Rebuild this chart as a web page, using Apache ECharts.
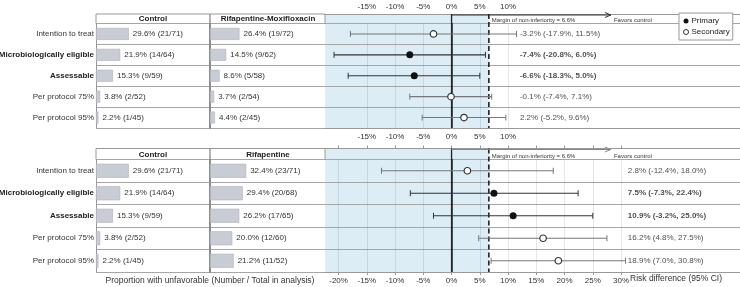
<!DOCTYPE html>
<html>
<head>
<meta charset="utf-8">
<script src="https://cdn.jsdelivr.net/npm/echarts@6/dist/echarts.min.js"></script>
<style>
  html, body { margin: 0; padding: 0; background: #fff; }
  #chart { width: 740px; height: 287px; }
</style>
</head>
<body>
<div id="chart"></div>
<script>
var rowLabels = ['Intention to treat', 'Microbiologically eligible', 'Assessable', 'Per protocol 75%', 'Per protocol 95%'];
var isPrimary = [false, true, true, false, false];

var controlPct = [29.6, 21.9, 15.3, 3.8, 2.2];
var controlN = [21, 14, 9, 2, 1];
var controlTotal = [71, 64, 59, 52, 45];

var moxPct = [26.4, 14.5, 8.6, 3.7, 4.4];
var moxN = [19, 9, 5, 2, 2];
var moxTotal = [72, 62, 58, 54, 45];
var moxDiff = [-3.2, -7.4, -6.6, -0.1, 2.2];
var moxLow = [-17.9, -20.8, -18.3, -7.4, -5.2];
var moxHigh = [11.5, 6.0, 5.0, 7.1, 9.6];

var rifPct = [32.4, 29.4, 26.2, 20.0, 21.2];
var rifN = [23, 20, 17, 12, 11];
var rifTotal = [71, 68, 65, 60, 52];
var rifDiff = [2.8, 7.5, 10.9, 16.2, 18.9];
var rifLow = [-12.4, -7.3, -3.2, 4.8, 7.0];
var rifHigh = [18.0, 22.4, 25.0, 27.5, 30.8];

var margin = 6.6;
var topTicks = [-15, -10, -5, 0, 5, 10];
var bottomTicks = [-20, -15, -10, -5, 0, 5, 10, 15, 20, 25, 30];

// layout
var FONT = '"Liberation Sans", Arial, sans-serif';
var XMIN = -22.4, PX_PER = 5.65;
var XMAX = XMIN + (740 - 325) / PX_PER;
var ARROW_END = 28.2;

var panels = [
    {top: 14, head: 9.5, bottom: 128, name: 'Rifapentine-Moxifloxacin',
     pct: moxPct, n: moxN, total: moxTotal, diff: moxDiff, low: moxLow, high: moxHigh,
     ticks: topTicks, topLabels: true, edgeTicks: false, textAt: 12.1, barWidth: 12, arrowColor: '#333'},
    {top: 148.5, head: 11, bottom: 272, name: 'Rifapentine',
     pct: rifPct, n: rifN, total: rifTotal, diff: rifDiff, low: rifLow, high: rifHigh,
     ticks: bottomTicks, topLabels: false, edgeTicks: true, textAt: 31.2, barWidth: 14, arrowColor: '#888'}
];

function pc(v) { return v.toFixed(1) + '%'; }

var grids = [], xAxes = [], yAxes = [], series = [], graphics = [];

panels.forEach(function (p, k) {
    var gTop = p.top + p.head;
    var gH = p.bottom - gTop;
    var g0 = grids.length;
    grids.push({left: 96, width: 114, top: gTop, height: gH, outerBoundsMode: 'none'});
    grids.push({left: 210, width: 115, top: gTop, height: gH, outerBoundsMode: 'none'});
    grids.push({left: 325, width: 415, top: gTop, height: gH, outerBoundsMode: 'none'});

    var x0 = xAxes.length;
    // bar columns
    [0, 1].forEach(function (j) {
        xAxes.push({gridIndex: g0 + j, type: 'value', min: 0, max: 103, show: false});
    });
    // forest bottom axis
    xAxes.push({
        gridIndex: g0 + 2, type: 'value', min: XMIN, max: XMAX, position: 'bottom',
        axisLine: {show: true, lineStyle: {color: '#999', width: 1}},
        axisTick: {show: p.edgeTicks, customValues: p.ticks, length: 3, lineStyle: {color: '#999'}},
        axisLabel: {customValues: p.ticks, formatter: function (v) { return v + '%'; },
                    fontSize: 8, color: '#333', margin: 5, fontFamily: FONT},
        splitLine: {show: true, lineStyle: {color: 'rgba(110,135,155,0.2)', width: 1}}
    });
    // forest top axis
    xAxes.push({
        gridIndex: g0 + 2, type: 'value', min: XMIN, max: XMAX, position: 'top', offset: p.head,
        axisLine: {show: true, lineStyle: {color: '#999', width: 1}},
        axisTick: {show: p.edgeTicks, customValues: p.ticks, length: 3, lineStyle: {color: '#999'}},
        axisLabel: {show: p.topLabels, customValues: p.ticks, formatter: function (v) { return v + '%'; },
                    fontSize: 8, color: '#333', margin: 3, fontFamily: FONT},
        splitLine: {show: false}
    });

    var y0 = yAxes.length;
    yAxes.push({
        gridIndex: g0, type: 'category', data: rowLabels, inverse: true,
        axisLine: {show: true, lineStyle: {color: '#999', width: 1}},
        axisTick: {show: false},
        axisLabel: {
            margin: 2, fontSize: 8, color: '#333', fontFamily: FONT,
            formatter: function (v, i) { return isPrimary[i] ? '{b|' + v + '}' : v; },
            rich: {b: {fontWeight: 'bold', fontSize: 8, color: '#222', fontFamily: FONT}}
        },
        splitLine: {show: true, lineStyle: {color: '#a6a6a6', width: 1}}
    });
    yAxes.push({
        gridIndex: g0 + 1, type: 'category', data: rowLabels, inverse: true,
        axisLine: {show: true, lineStyle: {color: '#8c8c8c', width: 2}},
        axisTick: {show: false}, axisLabel: {show: false},
        splitLine: {show: true, lineStyle: {color: '#a6a6a6', width: 1}}
    });
    yAxes.push({
        gridIndex: g0 + 2, type: 'category', data: rowLabels, inverse: true,
        axisLine: {show: true, lineStyle: {color: '#2b2b2b', width: 1.5}},
        axisTick: {show: false}, axisLabel: {show: false},
        splitLine: {show: true, lineStyle: {color: '#a6a6a6', width: 1}}
    });

    // bars
    var barCols = [
        {pct: controlPct, n: controlN, total: controlTotal},
        {pct: p.pct, n: p.n, total: p.total}
    ];
    barCols.forEach(function (c, j) {
        series.push({
            type: 'bar', xAxisIndex: x0 + j, yAxisIndex: y0 + j,
            data: c.pct, barWidth: p.barWidth,
            itemStyle: {color: '#c8ccd5', borderColor: '#aeb2bb', borderWidth: 0.6},
            label: {
                show: true, position: 'right', distance: 4, fontSize: 8, color: '#333', fontFamily: FONT,
                formatter: function (q) { return pc(c.pct[q.dataIndex]) + ' (' + c.n[q.dataIndex] + '/' + c.total[q.dataIndex] + ')'; }
            },
            silent: true
        });
    });

    var xF = x0 + 2, yF = y0 + 2;

    // shaded non-inferiority zone, reaching into the header row
    series.push({
        type: 'custom', xAxisIndex: xF, yAxisIndex: yF, z: -1, silent: true,
        data: [[margin, 0]],
        renderItem: function (params, api) {
            var cs = params.coordSys;
            var xr = api.coord([api.value(0), 0])[0];
            return {type: 'rect', shape: {x: cs.x, y: cs.y - p.head, width: xr - cs.x, height: cs.height + p.head},
                    style: {fill: '#dcedf5'}};
        }
    });

    // zero line, margin line, arrow and captions
    series.push({
        type: 'custom', xAxisIndex: xF, yAxisIndex: yF, z: 3, silent: true,
        data: [[0, margin, ARROW_END]],
        renderItem: function (params, api) {
            var cs = params.coordSys;
            var xz = api.coord([api.value(0), 0])[0];
            var xm = api.coord([api.value(1), 0])[0];
            var xa = api.coord([api.value(2), 0])[0];
            var yt = cs.y - p.head, yb = cs.y + cs.height;
            var ya = yt + 1;
            var ytxt = cs.y - 3.3;
            return {type: 'group', children: [
                {type: 'line', shape: {x1: xz, y1: yt, x2: xz, y2: yb}, style: {stroke: '#222', lineWidth: 1.3}},
                {type: 'line', shape: {x1: xm, y1: yt, x2: xm, y2: yb}, style: {stroke: '#222', lineWidth: 1.6, lineDash: [5, 3]}},
                {type: 'line', shape: {x1: xz, y1: ya, x2: xa, y2: ya}, style: {stroke: p.arrowColor, lineWidth: 1}},
                {type: 'polyline', shape: {points: [[xa - 6, ya - 2.5], [xa, ya], [xa - 6, ya + 2.5]]},
                 style: {stroke: p.arrowColor, fill: null, lineWidth: 1}},
                {type: 'text', x: xm + 3, y: ytxt,
                 style: {text: 'Margin of non-inferiority = ' + api.value(1) + '%', fontSize: 6, fill: '#333',
                         verticalAlign: 'middle', fontFamily: FONT}},
                {type: 'text', x: xa + 3, y: ytxt,
                 style: {text: 'Favors control', fontSize: 6, fill: '#333', verticalAlign: 'middle', fontFamily: FONT}}
            ]};
        }
    });

    // confidence intervals
    series.push({
        type: 'custom', xAxisIndex: xF, yAxisIndex: yF, z: 4, silent: true,
        encode: {x: [0, 1], y: 2},
        data: p.low.map(function (lo, i) { return [lo, p.high[i], i]; }),
        renderItem: function (params, api) {
            var i = api.value(2);
            var a = api.coord([api.value(0), i]);
            var b = api.coord([api.value(1), i]);
            var col = isPrimary[i] ? '#333' : '#777';
            return {type: 'group', children: [
                {type: 'line', shape: {x1: a[0], y1: a[1], x2: b[0], y2: b[1]}, style: {stroke: col, lineWidth: 1.1}},
                {type: 'line', shape: {x1: a[0], y1: a[1] - 3, x2: a[0], y2: a[1] + 3}, style: {stroke: col, lineWidth: 1}},
                {type: 'line', shape: {x1: b[0], y1: b[1] - 3, x2: b[0], y2: b[1] + 3}, style: {stroke: col, lineWidth: 1}}
            ]};
        }
    });

    // point estimates
    series.push({
        name: 'Primary', type: 'scatter', xAxisIndex: xF, yAxisIndex: yF, z: 5, silent: true,
        symbol: 'circle', symbolSize: 7, itemStyle: {color: '#111', opacity: 1},
        data: p.diff.map(function (d, i) { return isPrimary[i] ? [d, i] : null; }).filter(Boolean)
    });
    series.push({
        name: 'Secondary', type: 'scatter', xAxisIndex: xF, yAxisIndex: yF, z: 5, silent: true,
        symbol: 'circle', symbolSize: 6.5, itemStyle: {color: '#fff', borderColor: '#333', borderWidth: 1.2, opacity: 1},
        data: p.diff.map(function (d, i) { return isPrimary[i] ? null : [d, i]; }).filter(Boolean)
    });

    // estimate text
    series.push({
        type: 'scatter', xAxisIndex: xF, yAxisIndex: yF, z: 5, silent: true, symbolSize: 0,
        data: p.diff.map(function (d, i) {
            return {value: [p.textAt, i], label: {fontWeight: isPrimary[i] ? 'bold' : 'normal'}};
        }),
        label: {
            show: true, position: 'right', distance: 0, fontSize: 8, color: '#222', fontFamily: FONT,
            formatter: function (q) {
                var i = q.dataIndex;
                return pc(p.diff[i]) + ' (' + pc(p.low[i]) + ', ' + pc(p.high[i]) + ')';
            }
        }
    });

    // table header
    graphics.push({type: 'rect', shape: {x: 96, y: p.top, width: 114, height: p.head},
                   style: {fill: 'none', stroke: '#999', lineWidth: 1}});
    graphics.push({type: 'rect', shape: {x: 210, y: p.top, width: 115, height: p.head},
                   style: {fill: 'none', stroke: '#999', lineWidth: 1}});
    graphics.push({type: 'text', x: 153, y: p.top + p.head / 2 + 0.5,
                   style: {text: 'Control', fontSize: 8, fontWeight: 'bold', fill: '#222', align: 'center',
                           verticalAlign: 'middle', fontFamily: FONT}});
    graphics.push({type: 'text', x: 268, y: p.top + p.head / 2 + 0.5,
                   style: {text: p.name, fontSize: 8, fontWeight: 'bold', fill: '#222', align: 'center',
                           verticalAlign: 'middle', fontFamily: FONT}});
});

graphics.push({type: 'text', x: 210, y: 281,
               style: {text: 'Proportion with unfavorable (Number / Total in analysis)', fontSize: 8.5, fill: '#333',
                       align: 'center', verticalAlign: 'middle', fontFamily: FONT}});
graphics.push({type: 'text', x: 630, y: 279,
               style: {text: 'Risk difference (95% CI)', fontSize: 8.5, fill: '#333',
                       align: 'left', verticalAlign: 'middle', fontFamily: FONT}});

var chart = echarts.init(document.getElementById('chart'));
chart.setOption({
    animation: false,
    textStyle: {fontFamily: FONT},
    grid: grids,
    xAxis: xAxes,
    yAxis: yAxes,
    legend: {
        data: [
            {name: 'Primary', itemStyle: {color: '#111', borderWidth: 0}},
            {name: 'Secondary', itemStyle: {color: '#fff', borderColor: '#333', borderWidth: 1}}
        ],
        icon: 'circle', orient: 'vertical', left: 679, top: 13,
        itemWidth: 5, itemHeight: 5, itemGap: 3,
        padding: [4, 3, 4, 4],
        backgroundColor: '#fff', borderColor: '#999', borderWidth: 1,
        textStyle: {fontSize: 8, color: '#222', fontFamily: FONT, padding: [0, 0, 0, -2]},
        selectedMode: false
    },
    series: series,
    graphic: graphics
});
</script>
</body>
</html>
